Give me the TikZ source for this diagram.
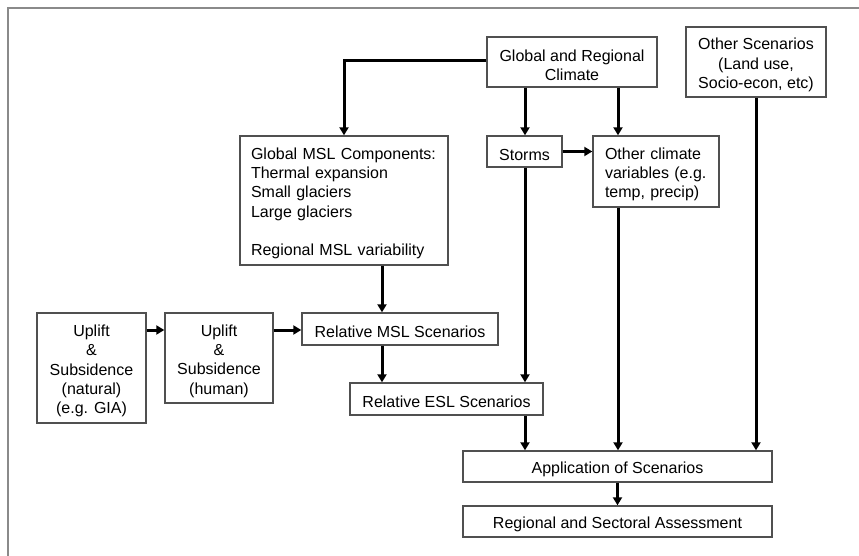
\documentclass[tikz,border=0pt]{standalone}
\usepackage{fontspec}
\setmainfont{Liberation Sans}
\usetikzlibrary{arrows.meta}
\definecolor{boxline}{HTML}{505050}
\definecolor{frameline}{HTML}{8A8A8A}
\tikzset{
  box/.style={draw=boxline, line width=1.4pt, inner sep=0pt},
  txt/.style={font=\fontsize{16}{19.3}\selectfont, align=center, inner sep=0pt, yshift=-3pt},
  ltxt/.style={txt, align=left},
  arr/.style={line width=3pt, -{Triangle[length=8pt,width=9pt]}},
}
\begin{document}
\begin{tikzpicture}[x=1pt,y=-1pt]
\useasboundingbox (0,0) rectangle (859,556);
\draw[frameline, line width=2pt] (8,556) -- (8,8) -- (859,8);

\node[box, minimum width=170pt, minimum height=50pt, label={[txt]center:{Global and Regional\\Climate}}] (clim) at (572,62) {};
\node[box, minimum width=140pt, minimum height=70pt, label={[txt]center:{Other Scenarios\\(Land use,\\Socio-econ, etc)}}] (other) at (756,62) {};
\node[box, minimum width=75pt, minimum height=31pt, label={[txt]center:{Storms}}] (storms) at (524.5,151.5) {};
\node[box, minimum width=126pt, minimum height=71pt, label={[ltxt, text width=102pt]center:{Other climate\\variables (e.g.\\temp, precip)}}] (ocv) at (656,171.5) {};
\node[box, minimum width=208pt, minimum height=129pt, label={[ltxt, text width=188pt, xshift=1pt]center:{\hyphenpenalty=10000 Global MSL Components:\\Thermal expansion\\Small glaciers\\Large glaciers\\[19.3pt]Regional MSL variability}}] (msl) at (344,200.5) {};
\node[box, minimum width=109pt, minimum height=110pt, label={[txt]center:{Uplift\\\&\\Subsidence\\(natural)\\(e.g. GIA)}}] (nat) at (91.5,368) {};
\node[box, minimum width=108pt, minimum height=90pt, label={[txt]center:{Uplift\\\&\\Subsidence\\(human)}}] (hum) at (219,358) {};
\node[box, minimum width=196pt, minimum height=32pt, label={[txt]center:{Relative MSL Scenarios}}] (rmsl) at (400,329) {};
\node[box, minimum width=193pt, minimum height=32pt, label={[txt]center:{Relative ESL Scenarios}}] (resl) at (446.5,399) {};
\node[box, minimum width=309pt, minimum height=31pt, label={[txt]center:{Application of Scenarios}}] (app) at (617.5,466.5) {};
\node[box, minimum width=309pt, minimum height=31pt, label={[txt]center:{Regional and Sectoral Assessment}}] (reg) at (617.5,521.5) {};

\coordinate (xa) at (618,0);
\coordinate (xb) at (382,0);
\coordinate (xs) at (525,0);
\coordinate (yc) at (0,330);
\coordinate (yt) at (0,61);

\draw[arr] (clim.west |- yt) -| (msl.north);
\draw[arr] (xs |- clim.south) -- (xs |- storms.north);
\draw[arr] (xa |- clim.south) -- (xa |- ocv.north);
\draw[arr] (storms.east) -- (storms.east -| ocv.west);
\draw[arr] (xb |- msl.south) -- (xb |- rmsl.north);
\draw[arr] (xb |- rmsl.south) -- (xb |- resl.north);
\draw[arr] (xs |- storms.south) -- (xs |- resl.north);
\draw[arr] (xs |- resl.south) -- (xs |- app.north);
\draw[arr] (xa |- ocv.south) -- (xa |- app.north);
\draw[arr] (other.south) -- (other.south |- app.north);
\draw[arr] (app.south) -- (reg.north);
\draw[arr] (nat.east |- yc) -- (hum.west |- yc);
\draw[arr] (hum.east |- yc) -- (rmsl.west |- yc);
\end{tikzpicture}
\end{document}
